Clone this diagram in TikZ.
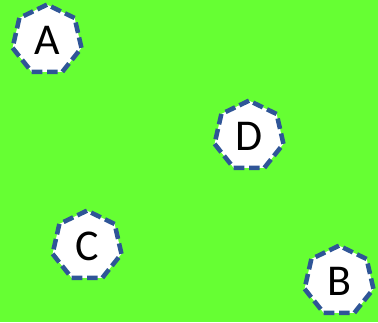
\documentclass[tikz,border=0pt]{standalone}
\usepackage{fontspec}
\setmainfont{Carlito}
\usetikzlibrary{positioning}
\usetikzlibrary{shapes.geometric}
\definecolor{bggreen}{RGB}{102,255,51}
\definecolor{hepblue}{RGB}{47,85,151}

\begin{document}
\begin{tikzpicture}[x=0.75pt,y=-0.75pt,on grid,font=\fontsize{33}{36}\selectfont,
    hep/.style={regular polygon,regular polygon sides=7,minimum size=53pt,inner sep=0pt,
      fill=white,draw=hepblue,line width=3.4pt,dash pattern=on 8pt off 3.5pt}]
      \fill[bggreen] (0,0) rectangle (378,322);
      \useasboundingbox (0,0) rectangle (378,322);
      \node[hep] (A) at (47,40) {A};
      \node[hep] (D) [below right=72pt and 151.5pt of A] {D};% 96px down, 202px right
      \node[hep] (C) [below right=154.5pt and 30pt of A] {C};
      \node[hep] (B) [below right=108.75pt and 67.5pt of D] {B};
    \end{tikzpicture}
\end{document}
